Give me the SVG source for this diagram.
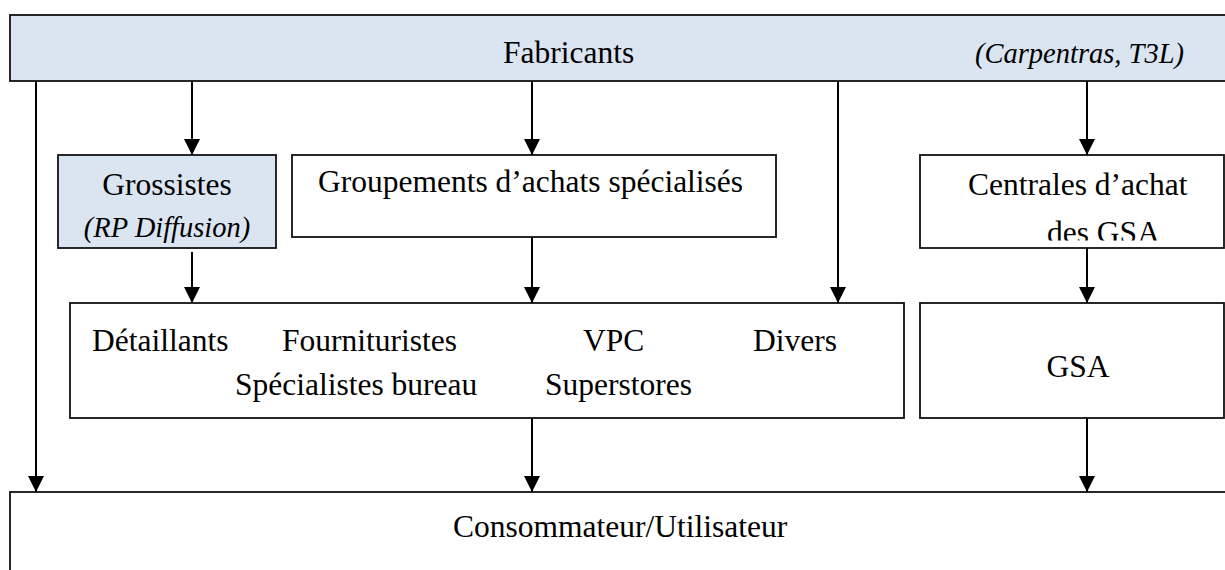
<svg xmlns="http://www.w3.org/2000/svg" width="1225" height="570" viewBox="0 0 1225 570">
<style>
.box{stroke:#111;stroke-width:1.8;fill:#fff}
.blue{fill:#dbe5f1}
.t{font-size:31.5px;fill:#000}
.i{font-size:28.5px;font-style:italic;fill:#000}
.c{text-anchor:middle}
.conn line{stroke:#000;stroke-width:2;marker-end:url(#ah)}
</style>
<defs>
<marker id="ah" markerUnits="userSpaceOnUse" viewBox="0 0 16 16" refX="16" refY="8" markerWidth="16" markerHeight="16" orient="auto">
<path d="M0,0 L16,8 L0,16 z" fill="#000"/>
</marker>
<clipPath id="clipDes"><rect x="920" y="200" width="304" height="40.5"/></clipPath>
</defs>
<rect width="1225" height="570" fill="#fff"/>
<g font-family="Liberation Serif, Times New Roman, serif">
<g id="fabricants">
<rect class="box blue" x="10" y="15" width="1230" height="66"/>
<text class="t" x="503" y="63">Fabricants</text>
<text class="i" x="975" y="63">(Carpentras, T3L)</text>
</g>
<g id="grossistes">
<rect class="box blue" x="58" y="155" width="218" height="93"/>
<text class="t c" x="167" y="195">Grossistes</text>
<text class="i c" x="167" y="237">(RP Diffusion)</text>
</g>
<g id="groupements">
<rect class="box" x="292" y="155" width="484" height="82"/>
<text class="t" x="318" y="192">Groupements d’achats spécialisés</text>
</g>
<g id="centrales">
<rect class="box" x="920" y="155" width="304" height="93"/>
<text class="t" x="968" y="195">Centrales d’achat</text>
<text class="t" x="1047" y="243" clip-path="url(#clipDes)">des GSA</text>
</g>
<g id="detaillants">
<rect class="box" x="70" y="303" width="834" height="115"/>
<text class="t" x="92" y="351">Détaillants</text>
<text class="t" x="282" y="351">Fournituristes</text>
<text class="t" x="583" y="351">VPC</text>
<text class="t" x="753" y="351">Divers</text>
<text class="t" x="235" y="395">Spécialistes bureau</text>
<text class="t" x="545" y="395">Superstores</text>
</g>
<g id="gsa">
<rect class="box" x="920" y="303" width="304" height="115"/>
<text class="t c" x="1078" y="377">GSA</text>
</g>
<g id="consommateur">
<rect class="box" x="10" y="492" width="1230" height="100"/>
<text class="t" x="453" y="537">Consommateur/Utilisateur</text>
</g>
</g>
<g id="connectors" class="conn">
<line x1="36" y1="81" x2="36" y2="492"/>
<line x1="192" y1="81" x2="192" y2="155"/>
<line x1="532" y1="81" x2="532" y2="155"/>
<line x1="838" y1="81" x2="838" y2="303"/>
<line x1="1087" y1="81" x2="1087" y2="155"/>
<line x1="192" y1="252" x2="192" y2="303"/>
<line x1="532" y1="237" x2="532" y2="303"/>
<line x1="1087" y1="248" x2="1087" y2="303"/>
<line x1="532" y1="418" x2="532" y2="492"/>
<line x1="1087" y1="418" x2="1087" y2="492"/>
</g>
</svg>
